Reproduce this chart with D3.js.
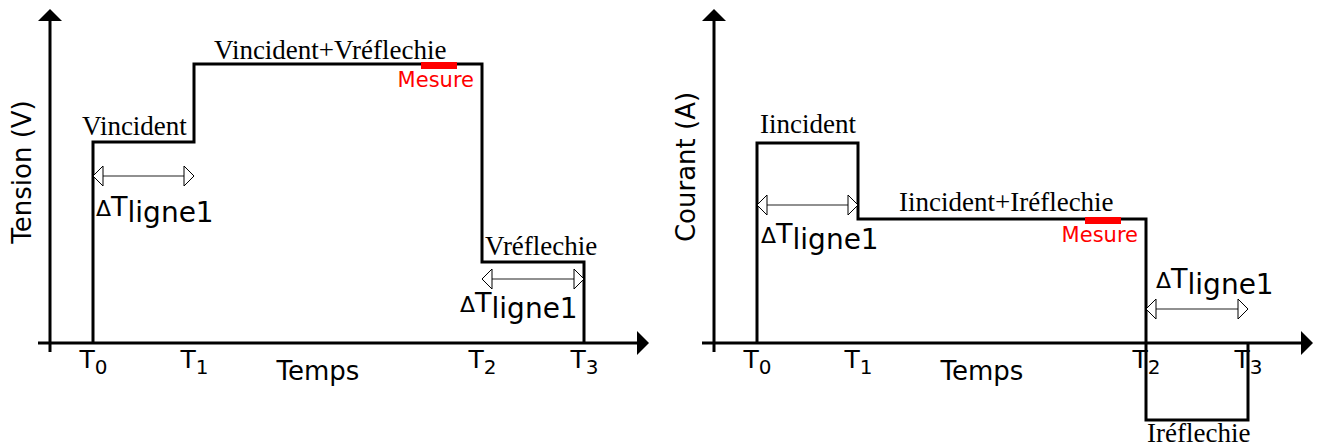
<!DOCTYPE html>
<meta charset="utf-8">
<head>
	<script src="https://cdn.jsdelivr.net/npm/d3@7"></script>
	<style>
		body { margin: 0; background: #fff; }
		.sans { font-family: "DejaVu Sans", sans-serif; }
		.serif { font-family: "Liberation Serif", "Times New Roman", serif; }
	</style>
</head>
<body>
<div id="chart"></div>
<script>
	// instants T0..T3 sur l'axe du temps
	var tickNames = ["T", "T", "T", "T"];
	var tickSubs = ["0", "1", "2", "3"];
	var tickTimes = [0.43, 1.44, 4.32, 5.34];
	// niveau du signal a partir de chaque instant
	var tensionLevels = [2.01, 2.79, 0.81, 0];
	var courantLevels = [2.0, 1.24, -0.77, 0];
	var tensionLabels = ["Vincident", "Vincident+Vréflechie", "Vréflechie"];
	var courantLabels = ["Iincident", "Iincident+Iréflechie", "Iréflechie"];
	var mesureWindow = [3.71, 4.07];
	var deltaPairs = [[0, 1], [2, 3]];

	var W = 1322, H = 448;
	var svg = d3.select("#chart").append("svg")
		.attr("width", W)
		.attr("height", H);

	var x = d3.scaleLinear().domain([0, 6]).range([0, 600]);
	var y = d3.scaleLinear().domain([-1, 3.4]).range([443, 3]);

	// markers
	var defs = svg.append("defs");
	defs.append("marker")
		.attr("id", "axisHead")
		.attr("viewBox", "0 0 12 24")
		.attr("refX", 1).attr("refY", 12)
		.attr("markerWidth", 12).attr("markerHeight", 24)
		.attr("markerUnits", "userSpaceOnUse")
		.attr("orient", "auto")
		.append("path").attr("d", "M0,0 L12,12 L0,24 Z").attr("fill", "#000");
	defs.append("marker")
		.attr("id", "openHead")
		.attr("viewBox", "-1 -1 12 22")
		.attr("refX", 10).attr("refY", 10)
		.attr("markerWidth", 12).attr("markerHeight", 22)
		.attr("markerUnits", "userSpaceOnUse")
		.attr("orient", "auto-start-reverse")
		.append("path").attr("d", "M0,0 L10,10 L0,20 Z")
		.attr("fill", "#fff").attr("stroke", "#000").attr("stroke-width", 1);

	var line = d3.line()
		.x(d => x(d.t))
		.y(d => y(d.v))
		.curve(d3.curveStepAfter);

	function drawPanel(cfg) {
		var g = svg.append("g").attr("transform", "translate(" + cfg.ox + ",0)");

		// axes
		g.append("line")
			.attr("x1", x(-0.12)).attr("x2", x(5.88))
			.attr("y1", y(0)).attr("y2", y(0))
			.attr("stroke", "#000").attr("stroke-width", 3)
			.attr("marker-end", "url(#axisHead)");
		g.append("line")
			.attr("x1", x(0)).attr("x2", x(0))
			.attr("y1", y(-0.09)).attr("y2", y(3.23))
			.attr("stroke", "#000").attr("stroke-width", 3)
			.attr("marker-end", "url(#axisHead)");

		// tick labels T0..T3
		var ax = g.append("g")
			.attr("transform", "translate(0," + y(0) + ")")
			.call(d3.axisBottom(x).tickValues(tickTimes).tickSize(0).tickFormat((d, i) => tickNames[i]));
		ax.select(".domain").remove();
		ax.selectAll("text")
			.attr("class", "sans")
			.attr("font-family", null)
			.style("font-size", "25px")
			.attr("fill", "#000")
			.attr("y", 25).attr("dy", null)
			.each(function(d, i) {
				d3.select(this).append("tspan")
					.attr("dy", 6)
					.style("font-size", "20px")
					.text(tickSubs[i]);
			});

		// signal
		var pts = [{t: tickTimes[0], v: 0}].concat(tickTimes.map((t, i) => ({t: t, v: cfg.levels[i]})));
		g.append("path")
			.attr("d", line(pts))
			.attr("fill", "none")
			.attr("stroke", "#000")
			.attr("stroke-width", 3)
			.attr("stroke-linejoin", "miter");

		// mesure
		var lvMes = cfg.levels[1];
		g.append("rect")
			.attr("x", x(mesureWindow[0]))
			.attr("width", x(mesureWindow[1]) - x(mesureWindow[0]))
			.attr("y", y(lvMes) - 2)
			.attr("height", 7)
			.attr("fill", "#f00");
		g.append("text")
			.attr("class", "sans")
			.attr("x", x(tickTimes[2]) - 8)
			.attr("y", y(lvMes) + 23)
			.attr("text-anchor", "end")
			.attr("fill", "#f00")
			.style("font-size", "21px")
			.text("Mesure");

		// niveaux
		cfg.labels.forEach(function(lab, i) {
			g.append("text")
				.attr("class", "serif")
				.attr("x", x(tickTimes[i]) + cfg.labDx[i])
				.attr("y", y(cfg.levels[i]) + cfg.labDy[i])
				.style("font-size", "27px")
				.attr("fill", "#000")
				.text(lab);
		});

		// delta T
		deltaPairs.forEach(function(p, i) {
			g.append("line")
				.attr("x1", x(tickTimes[p[0]])).attr("x2", x(tickTimes[p[1]]))
				.attr("y1", cfg.arrowY[i]).attr("y2", cfg.arrowY[i])
				.attr("stroke", "#222").attr("stroke-width", 1.2)
				.attr("marker-start", "url(#openHead)")
				.attr("marker-end", "url(#openHead)");
			var t = g.append("text")
				.attr("class", "sans")
				.attr("x", x(tickTimes[p[0]]) + cfg.dtDx[i])
				.attr("y", cfg.dtY[i])
				.attr("fill", "#000");
			t.append("tspan").style("font-size", "22px").text("Δ");
			t.append("tspan").style("font-size", "27px").text("T");
			t.append("tspan").attr("dy", 6).style("font-size", "28px").text("ligne1");
		});

		// titres des axes
		g.append("text")
			.attr("class", "sans")
			.attr("x", x(2.68))
			.attr("y", 380)
			.attr("text-anchor", "middle")
			.style("font-size", "26px")
			.text("Temps");
		g.append("text")
			.attr("class", "sans")
			.attr("transform", "translate(" + (x(0) - 19) + "," + cfg.yLabelMid + ") rotate(-90)")
			.attr("text-anchor", "middle")
			.style("font-size", "26px")
			.text(cfg.yLabel);
	}

	drawPanel({
		ox: 50,
		levels: tensionLevels,
		labels: tensionLabels,
		labDx: [-11, 20, 3],
		labDy: [-7, -5, -7],
		arrowY: [176, 279],
		dtDx: [3, -22],
		dtY: [216, 312],
		yLabel: "Tension (V)",
		yLabelMid: 172
	});

	drawPanel({
		ox: 714,
		levels: courantLevels,
		labels: courantLabels,
		labDx: [3, 41, 1],
		labDy: [-10, -8, 22],
		arrowY: [205, 309],
		dtDx: [4, 10],
		dtY: [243, 288],
		yLabel: "Courant (A)",
		yLabelMid: 167
	});
</script>
</body>
</html>
